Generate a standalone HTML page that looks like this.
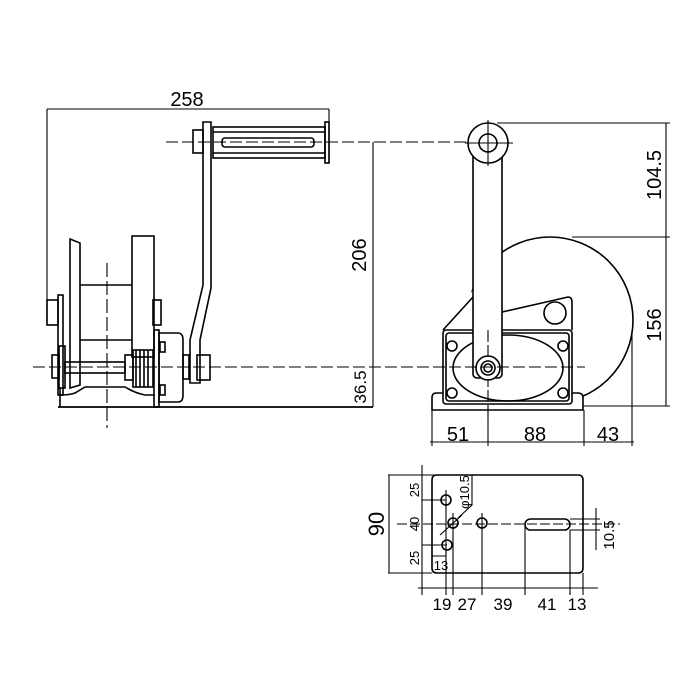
<!DOCTYPE html>
<html><head><meta charset="utf-8"><style>
html,body{margin:0;padding:0;background:#fff;}
svg{display:block;}
text{font-family:"Liberation Sans",sans-serif;fill:#000;}
</style></head><body>
<svg width="700" height="700" viewBox="0 0 700 700" xmlns="http://www.w3.org/2000/svg">
<g fill="none" stroke="#000" stroke-width="1.6">
<line x1="47" y1="109" x2="329" y2="109" stroke-width="1.1"/>
<line x1="47" y1="109" x2="47" y2="322" stroke-width="1.1"/>
<line x1="329" y1="109" x2="329" y2="162" stroke-width="1.1"/>
<line x1="166" y1="142" x2="475" y2="142" stroke-dasharray="12,4" stroke-width="1.1"/>
<line x1="107" y1="263" x2="107" y2="428" stroke-dasharray="14,4" stroke-width="1.1"/>
<line x1="373" y1="142" x2="373" y2="407" stroke-width="1.1"/>
<line x1="58" y1="407" x2="373" y2="407" stroke-width="1.8"/>
<rect x="193" y="130" width="10" height="23"/>
<path d="M203 122 L211 122 L211 288 L200 340 L200 383 L190 383 L190 340 L203 285 Z"/>
<rect x="213" y="127" width="112" height="31"/>
<line x1="213" y1="132" x2="325" y2="132"/>
<line x1="213" y1="153" x2="325" y2="153"/>
<rect x="222" y="138" width="92" height="9" rx="3"/>
<rect x="325" y="122" width="4" height="41"/>
<path d="M70 239 L80 243 L80 385 L70 388 Z"/>
<rect x="132" y="236" width="22" height="121"/>
<line x1="80" y1="285" x2="132" y2="285"/>
<line x1="80" y1="340" x2="132" y2="340"/>
<rect x="47" y="300" width="11" height="25"/>
<rect x="58" y="295" width="5" height="100"/>
<rect x="153" y="300" width="8" height="25"/>
<rect x="52" y="355" width="7" height="23"/>
<rect x="59" y="346" width="6" height="42"/>
<rect x="65" y="362" width="60" height="11"/>
<rect x="125" y="355" width="8" height="25"/>
<rect x="133" y="350" width="20" height="37"/>
<line x1="136" y1="350" x2="136" y2="387"/><line x1="140" y1="350" x2="140" y2="387"/>
<line x1="144" y1="350" x2="144" y2="387"/><line x1="148" y1="350" x2="148" y2="387"/>
<rect x="154" y="330" width="5" height="77"/>
<path d="M159 333 L178 333 Q183 333 183 340 L183 395 Q183 402 178 402 L159 402 Z"/>
<rect x="160" y="342" width="5" height="10"/>
<rect x="160" y="385" width="5" height="10"/>
<rect x="183" y="355" width="6" height="24"/>
<rect x="197" y="355" width="13" height="25"/>
<path d="M60 388 L60 407 M60 395 Q70 395 75 393 L85 387 L125 387 Q135 393 145 395 L155 395"/>
<!-- RIGHT VIEW -->
<circle cx="550" cy="320" r="83" fill="#fff"/>
<path d="M443 330 L473 290 L502 290 L502 312 L568 297 Q572 297 572 302 L572 330 Z" fill="#fff" stroke="none"/>
<path d="M443 330 L473 297 M502 312 L568 297 Q572 297 572 302 L572 330"/>
<circle cx="555" cy="313" r="11"/>
<path d="M443 393 L436 393 Q432 393 432 398 L432 410 L583 410 L583 398 Q583 393 578 393 L443 393 Z" fill="#fff"/>
<rect x="443" y="330" width="129" height="74" rx="3" fill="#fff"/>
<rect x="446" y="333" width="123" height="68" rx="3"/>
<ellipse cx="508" cy="368" rx="55" ry="33"/>
<circle cx="452" cy="346" r="5"/><circle cx="563" cy="346" r="5"/>
<circle cx="452" cy="393" r="5"/><circle cx="563" cy="393" r="5"/>
<rect x="473" y="150" width="29" height="228" rx="4" fill="#fff"/>
<circle cx="488" cy="143" r="20" fill="#fff"/>
<circle cx="488" cy="143" r="9"/>
<line x1="465" y1="143" x2="513" y2="143" stroke-width="1.1"/>
<line x1="488" y1="120" x2="488" y2="166" stroke-width="1.1"/>
<line x1="488" y1="330" x2="488" y2="420" stroke-dasharray="12,3" stroke-width="1.1"/>
<circle cx="488" cy="368" r="12" fill="#fff"/><circle cx="488" cy="368" r="7"/><circle cx="488" cy="368" r="4"/>
<line x1="33" y1="367" x2="585" y2="367" stroke-dasharray="12,4" stroke-width="1.1"/>
<line x1="497" y1="123" x2="670" y2="123" stroke-width="1.1"/>
<line x1="572" y1="237" x2="670" y2="237" stroke-width="1.1"/>
<line x1="583" y1="406" x2="670" y2="406" stroke-width="1.1"/>
<line x1="666" y1="123" x2="666" y2="406" stroke-width="1.1"/>
<line x1="432" y1="410" x2="432" y2="446" stroke-width="1.1"/>
<line x1="488" y1="410" x2="488" y2="446" stroke-width="1.1"/>
<line x1="584" y1="410" x2="584" y2="446" stroke-width="1.1"/>
<line x1="632" y1="330" x2="632" y2="446" stroke-width="1.1"/>
<line x1="430" y1="442" x2="634" y2="442" stroke-width="1.1"/>
<!-- BOTTOM VIEW -->
<line x1="388" y1="475" x2="578" y2="475" stroke-width="1.1"/>
<line x1="388" y1="573" x2="432" y2="573" stroke-width="1.1"/>
<path d="M437 475 L578 475 Q583 475 583 480 L583 568 Q583 573 578 573 L437 573 Q432 573 432 568 L432 480 Q432 475 437 475 Z"/>
<line x1="389" y1="475" x2="389" y2="573" stroke-width="1.1"/>
<line x1="422" y1="465" x2="422" y2="595" stroke-width="1.1"/>
<path d="M457 475 L472 475 L472 505 L458 518" stroke-width="1.1"/>
<line x1="397" y1="524" x2="620" y2="524" stroke-dasharray="10,3" stroke-width="1.1"/>
<circle cx="446" cy="500" r="5"/><circle cx="453" cy="523" r="5"/>
<circle cx="447" cy="545" r="5"/><circle cx="482" cy="523" r="5"/>
<line x1="422" y1="500" x2="446" y2="500" stroke-width="1.1"/>
<line x1="422" y1="545" x2="447" y2="545" stroke-width="1.1"/>
<line x1="446" y1="490" x2="446" y2="595" stroke-width="1.1"/>
<line x1="453" y1="513" x2="453" y2="595" stroke-width="1.1"/>
<line x1="482" y1="513" x2="482" y2="595" stroke-width="1.1"/>
<line x1="440" y1="535" x2="462" y2="515" stroke-width="1.1"/>
<path d="M432 556 L446 556 L446 551" stroke-width="1.1"/>
<rect x="525" y="519" width="45" height="11" rx="5.5"/>
<line x1="525" y1="524" x2="525" y2="595" stroke-width="1.1"/>
<line x1="570" y1="530" x2="570" y2="595" stroke-width="1.1"/>
<line x1="583" y1="573" x2="583" y2="595" stroke-width="1.1"/>
<line x1="570" y1="519" x2="600" y2="519" stroke-width="1.1"/>
<line x1="570" y1="530" x2="600" y2="530" stroke-width="1.1"/>
<line x1="596" y1="508" x2="596" y2="550" stroke-width="1.1"/>
<line x1="418" y1="588" x2="598" y2="588" stroke-width="1.1"/>
</g>
<text x="187" y="106" font-size="20" text-anchor="middle">258</text>
<text transform="translate(366,255) rotate(-90)" font-size="20" text-anchor="middle">206</text>
<text transform="translate(366,387) rotate(-90)" font-size="17" text-anchor="middle">36.5</text>
<text transform="translate(661,175) rotate(-90)" font-size="20" text-anchor="middle">104.5</text>
<text transform="translate(661,325) rotate(-90)" font-size="20" text-anchor="middle">156</text>
<text x="458" y="441" font-size="20" text-anchor="middle">51</text>
<text x="535" y="441" font-size="20" text-anchor="middle">88</text>
<text x="608" y="441" font-size="20" text-anchor="middle">43</text>
<text transform="translate(384,524) rotate(-90)" font-size="22" text-anchor="middle">90</text>
<text transform="translate(419,490) rotate(-90)" font-size="13" text-anchor="middle">25</text>
<text transform="translate(419,524) rotate(-90)" font-size="13" text-anchor="middle">40</text>
<text transform="translate(419,558) rotate(-90)" font-size="13" text-anchor="middle">25</text>
<text transform="translate(469,492) rotate(-90)" font-size="13" text-anchor="middle">φ10.5</text>
<text x="441" y="570" font-size="13" text-anchor="middle">13</text>
<text transform="translate(614,535) rotate(-90)" font-size="15" text-anchor="middle">10.5</text>
<text x="442" y="610" font-size="17" text-anchor="middle">19</text>
<text x="467" y="610" font-size="17" text-anchor="middle">27</text>
<text x="503" y="610" font-size="17" text-anchor="middle">39</text>
<text x="547" y="610" font-size="17" text-anchor="middle">41</text>
<text x="577" y="610" font-size="17" text-anchor="middle">13</text>
</svg>
</body></html>
